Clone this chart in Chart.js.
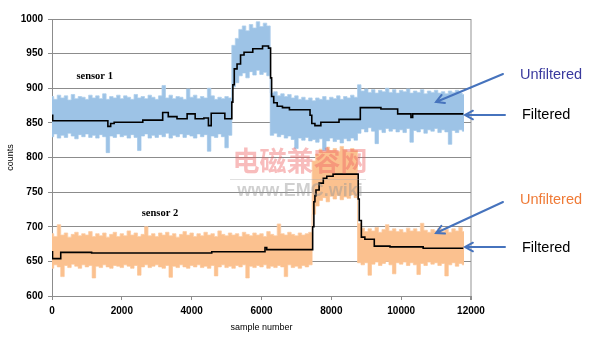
<!DOCTYPE html>
<html>
<head>
<meta charset="utf-8">
<script src="https://cdn.jsdelivr.net/npm/chart.js@4/dist/chart.umd.min.js"></script>
<style>
  html, body { margin: 0; padding: 0; background: #fff; }
  #chart { display: block; }
</style>
</head>
<body>
<canvas id="chart" width="600" height="344"></canvas>
<script>
// sample positions of the raw-signal envelope (every 100 samples)
const samples = [];
for (let s = 0; s <= 11800; s += 100) samples.push(s);

// sensor 1 raw signal, upper / lower envelope
const s1Hi = [
  888, 884, 890, 886, 889, 883, 891, 885, 888, 887,
  884, 890, 886, 889, 885, 892, 884, 888, 886, 890,
  885, 889, 887, 884, 891, 886, 888, 885, 890, 887,
  884, 889, 904, 886, 890, 885, 888, 887, 884, 899,
  887, 890, 885, 888, 886, 900, 889, 884, 887, 885,
  888, 886,
  962, 972,
  985, 990, 983, 992, 987, 996, 989, 994, 990,
  893,
  895, 889, 892, 888, 891, 886, 889, 884, 887, 883, 886,
  882, 886, 884, 888, 883, 887, 885, 889, 884, 888, 886, 890, 887,
  905,
  896, 899, 894, 898, 893, 897, 895, 900, 894, 898, 893,
  897, 895, 899, 893, 896, 894, 898, 892, 896, 894,
  897, 893, 895, 892, 896, 894, 897, 893, 891
];
const s1Lo = [
  830, 834, 828, 832, 829, 835, 831, 827, 833, 830,
  834, 829, 832, 828, 833, 830, 807, 831, 829, 834,
  830, 832, 828, 833, 829, 810, 831, 834, 828, 832,
  829, 833, 830, 835, 828, 832, 830, 834, 829, 833,
  831, 828, 834, 830, 833, 809, 831, 829, 834, 830,
  814, 832,
  902, 908,
  918, 922, 915, 924, 919, 926, 920, 923, 918,
  832,
  835, 830, 833, 828, 831, 826, 813, 828, 825, 829, 824,
  826, 822, 827, 810, 824, 828, 823, 826, 821, 827, 824, 828, 825,
  835,
  841, 837, 843, 838, 820, 840, 836, 842, 838, 841, 837,
  840, 836, 842, 822, 839, 837, 841, 835, 840, 838,
  842, 836, 840, 837, 819, 839, 836, 840, 838
];

// sensor 2 raw signal, upper / lower envelope
const s2Hi = [
  690, 686, 703, 688, 691, 685, 689, 692, 687, 690,
  688, 693, 686, 690, 687, 691, 685, 689, 692, 686,
  690, 687, 694, 688, 691, 686, 689, 700, 687, 690,
  686, 691, 688, 692, 687, 690, 685, 689, 693, 688,
  691, 686, 690, 687, 692, 688, 690, 686, 694, 689,
  687, 691, 688, 690, 686, 692, 689, 687, 691, 688,
  690, 686, 693, 689, 687, 704, 690, 688, 692, 689,
  687, 691, 688, 690, 692,
  795, 805, 812, 808, 815, 810, 813, 809, 816, 811, 808, 813, 810,
  705,
  698, 693, 697, 694, 699, 692, 696, 703, 694, 697, 693,
  696, 692, 698, 694, 697, 693, 705, 695, 692, 696,
  694, 698, 693, 696, 692, 697, 694, 699, 693
];
const s2Lo = [
  640, 645, 642, 628, 644, 641, 646, 643, 640, 645,
  642, 644, 626, 643, 641, 645, 642, 640, 644, 643,
  641, 645, 643, 640, 644, 630, 642, 645, 641, 643,
  645, 642, 640, 644, 627, 643, 641, 645, 642, 640,
  644, 642, 645, 641, 643, 640, 644, 629, 642, 645,
  641, 643, 640, 644, 642, 645, 626, 643, 641, 644,
  642, 645, 640, 643, 641, 644, 642, 628, 645, 641,
  643, 640, 644, 642, 645,
  718, 730, 738, 742, 736, 744, 740, 745, 739, 743, 741, 746, 742,
  648,
  645, 648, 630, 646, 649, 644, 647, 650, 645, 632, 648,
  646, 649, 644, 648, 645, 631, 647, 644, 649, 646,
  648, 644, 647, 629, 645, 648, 643, 647, 645
];

// filtered outputs: sample where the level changes, new level
const s1FiltX = [0, 20, 1600, 1680, 1780, 2600, 3170, 3330, 3580, 3870, 4100, 4350, 4480, 4560, 4950,
  5150, 5180, 5220, 5300, 5400, 5500, 5750, 6030, 6200, 6260, 6290, 6350, 6450, 6600, 6800,
  7390, 7440, 7530, 7700, 8220, 8830, 9420, 9900, 10280, 10330, 11780];
const s1FiltY = [861, 853, 845, 849, 851, 854, 865, 859, 856, 863, 856, 857, 846, 864, 856,
  880, 905, 928, 935, 948, 952, 957, 961, 958, 915, 888, 879, 874, 872, 869,
  861, 849, 846, 851, 855, 872, 870, 863, 858, 863, 863];

const s2FiltX = [0, 15, 250, 1135, 4575, 6100, 6150, 7465, 7500, 7530, 7560, 7650, 7770, 7870, 8050,
  8770, 8800, 8860, 8960, 9230, 9680, 10630, 11780];
const s2FiltY = [664, 654, 663, 662, 664, 670, 667, 700, 736, 745, 753, 763, 770, 773, 776,
  740, 709, 685, 682, 672, 671, 669, 669];

const xTicks = [0, 2000, 4000, 6000, 8000, 10000, 12000];
const yTicks = [600, 650, 700, 750, 800, 850, 900, 950, 1000];

const pts = (xs, ys) => xs.map((x, i) => ({ x: x, y: ys[i] }));

const blueBand = '#9dc3e6';
const blueEdge = 'rgba(175, 207, 236, 0.8)';
const orangeBand = '#fbc18f';
const orangeEdge = 'rgba(252, 205, 165, 0.8)';
const gridGray = '#8c8c8c';
const tickFont = { family: '"Liberation Sans", Arial, sans-serif', size: 10, weight: 'bold' };

// arrows, callouts, sensor captions and the site watermark
const annotations = {
  id: 'annotations',
  afterDraw(chart) {
    const ctx = chart.ctx;
    const xs = chart.scales.x, ys = chart.scales.y;
    ctx.save();

    ctx.fillStyle = '#000';
    ctx.font = 'bold 10.5px "Liberation Serif", "Times New Roman", serif';
    ctx.textBaseline = 'middle';
    ctx.textAlign = 'left';
    ctx.fillText('sensor 1', xs.getPixelForValue(700), ys.getPixelForValue(918));
    ctx.fillText('sensor 2', xs.getPixelForValue(2570), ys.getPixelForValue(720));

    // watermark
    ctx.textAlign = 'center';
    ctx.fillStyle = 'rgba(238, 96, 96, 0.42)';
    ctx.font = 'bold 27px "Noto Sans CJK SC", sans-serif';
    ctx.fillText('电磁兼容网', 300, 161);
    ctx.strokeStyle = 'rgba(170, 170, 170, 0.35)';
    ctx.lineWidth = 1;
    ctx.beginPath();
    ctx.moveTo(230, 179.5);
    ctx.lineTo(366, 179.5);
    ctx.stroke();
    ctx.fillStyle = 'rgba(150, 150, 150, 0.45)';
    ctx.font = 'bold 18px "Liberation Sans", Arial, sans-serif';
    ctx.fillText('www.EMC.wiki', 300, 191);

    // callout arrows
    const arrow = (x1, y1, x2, y2) => {
      const a = Math.atan2(y2 - y1, x2 - x1);
      const h = 9;
      ctx.beginPath();
      ctx.moveTo(x1, y1);
      ctx.lineTo(x2, y2);
      ctx.moveTo(x2 - h * Math.cos(a - 0.5), y2 - h * Math.sin(a - 0.5));
      ctx.lineTo(x2, y2);
      ctx.lineTo(x2 - h * Math.cos(a + 0.5), y2 - h * Math.sin(a + 0.5));
      ctx.stroke();
    };
    ctx.strokeStyle = '#4673bd';
    ctx.lineWidth = 2;
    ctx.lineCap = 'round';
    arrow(503, 74, 436, 102);
    arrow(505, 115, 465, 115);
    arrow(503, 202, 436, 233);
    arrow(505, 247, 465, 247);

    ctx.textAlign = 'left';
    ctx.font = '14.5px "Liberation Sans", Arial, sans-serif';
    ctx.fillStyle = '#3a3a9e';
    ctx.fillText('Unfiltered', 520, 75);
    ctx.fillStyle = '#000';
    ctx.fillText('Filtered', 522, 115);
    ctx.fillStyle = '#ef7a36';
    ctx.fillText('Unfiltered', 520, 200);
    ctx.fillStyle = '#000';
    ctx.fillText('Filtered', 522, 248);

    ctx.restore();
  }
};

// raw signal drawn as a filled envelope with square teeth
const bandSet = (data, color, edge, fill) => ({
  data: data,
  borderColor: edge,
  backgroundColor: color,
  borderWidth: 1,
  pointRadius: 0,
  stepped: 'middle',
  fill: fill,
  order: 1
});

const filtSet = (data) => ({
  data: data,
  borderColor: '#000',
  borderWidth: 1.6,
  pointRadius: 0,
  stepped: 'before',
  fill: false,
  order: 0
});

new Chart(document.getElementById('chart'), {
  type: 'line',
  data: {
    datasets: [
      filtSet(pts(s1FiltX, s1FiltY)),
      filtSet(pts(s2FiltX, s2FiltY)),
      bandSet(pts(samples, s1Hi), blueBand, blueEdge, '+1'),
      bandSet(pts(samples, s1Lo), blueBand, blueEdge, false),
      bandSet(pts(samples, s2Hi), orangeBand, orangeEdge, '+1'),
      bandSet(pts(samples, s2Lo), orangeBand, orangeEdge, false)
    ]
  },
  options: {
    responsive: false,
    animation: false,
    devicePixelRatio: 1,
    layout: { padding: { top: 19, right: 129, left: 0, bottom: 0 } },
    plugins: {
      legend: { display: false },
      tooltip: { enabled: false }
    },
    scales: {
      x: {
        type: 'linear',
        min: 0, max: 12000,
        afterBuildTicks: s => { s.ticks = xTicks.map(v => ({ value: v })); },
        afterFit: s => { s.height = 48; },
        grid: {
          color: c => (c.tick && c.tick.value === 12000) ? '#c9c9c9' : 'rgba(0,0,0,0)',
          lineWidth: c => (c.tick && c.tick.value === 12000) ? 2 : 1,
          tickColor: gridGray,
          tickLength: 4
        },
        border: { color: gridGray, width: 1 },
        ticks: {
          color: '#000',
          padding: 5,
          maxRotation: 0,
          callback: v => String(v),
          font: tickFont
        },
        title: {
          display: true,
          text: 'sample number',
          color: '#000',
          padding: { top: 0, bottom: 11 },
          font: { family: '"Liberation Sans", Arial, sans-serif', size: 9 }
        }
      },
      y: {
        min: 600, max: 1000,
        afterBuildTicks: s => { s.ticks = yTicks.map(v => ({ value: v })); },
        afterFit: s => { s.width = 52; },
        grid: {
          color: gridGray,
          tickColor: gridGray,
          tickLength: 4
        },
        border: { color: gridGray, width: 1 },
        ticks: {
          color: '#000',
          padding: 5,
          callback: v => String(v),
          font: tickFont
        },
        title: {
          display: true,
          text: 'counts',
          color: '#000',
          padding: { top: 5, bottom: 0 },
          font: { family: '"Liberation Sans", Arial, sans-serif', size: 9 }
        }
      }
    }
  },
  plugins: [annotations]
});
</script>
</body>
</html>
